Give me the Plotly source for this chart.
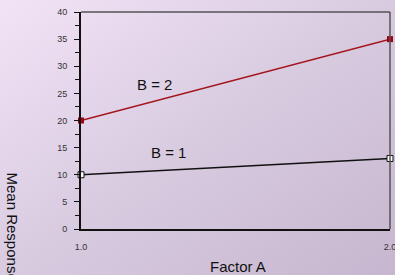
import plotly.graph_objects as go
import base64

factor_a = [1.0, 2.0]
b2_values = [20, 35]
b1_values = [10, 13]
y_ticks = [0, 5, 10, 15, 20, 25, 30, 35, 40]

svg = ('<svg xmlns="http://www.w3.org/2000/svg" width="395" height="275">'
       '<defs><linearGradient id="g" x1="0" y1="0" x2="1" y2="1">'
       '<stop offset="0" stop-color="#f3e3f7"/>'
       '<stop offset="0.5" stop-color="#d8cbe0"/>'
       '<stop offset="1" stop-color="#c6b6cf"/>'
       '</linearGradient></defs>'
       '<rect width="395" height="275" fill="url(#g)"/></svg>')
src = "data:image/svg+xml;base64," + base64.b64encode(svg.encode()).decode()

fig = go.Figure()
fig.add_trace(go.Scatter(
    x=factor_a, y=b2_values, mode="lines+markers",
    line=dict(color="#a3141c", width=1.5),
    marker=dict(symbol="square", size=6, color="#a00010"),
    cliponaxis=False, showlegend=False, hoverinfo="skip"))
fig.add_trace(go.Scatter(
    x=factor_a, y=b1_values, mode="lines+markers",
    line=dict(color="#111111", width=1.3),
    marker=dict(symbol="square", size=6, color="white",
                line=dict(color="#111111", width=1)),
    cliponaxis=False, showlegend=False, hoverinfo="skip"))

fig.update_layout(
    width=395, height=275,
    margin=dict(l=81, r=5, t=12, b=46, autoexpand=False),
    paper_bgcolor="#d8cbe0", plot_bgcolor="rgba(0,0,0,0)",
    font=dict(family="Liberation Sans, Arial", color="#222222"),
    images=[dict(source=src, xref="paper", yref="paper", x=-81/309, y=1+12/217,
                 sizex=395/309, sizey=275/217, sizing="stretch",
                 xanchor="left", yanchor="top", layer="below")],
    xaxis=dict(range=[1, 2], tickvals=factor_a, ticktext=["1.0", "2.0"],
               showgrid=False, zeroline=False, showline=True, automargin=False,
               linecolor="#111111", linewidth=2, ticks="", ticklabeloverflow="allow",
               tickfont=dict(size=9, color="#333333"), ticklabelstandoff=8),
    yaxis=dict(range=[0, 40], tickvals=y_ticks, showgrid=False, zeroline=False,
               showline=True, linecolor="#111111", linewidth=2, automargin=False,
               ticks="outside", ticklen=5, tickcolor="#111111",
               minor=dict(dtick=2.5, ticks="outside", ticklen=4, tickcolor="#111111"),
               tickfont=dict(size=9, color="#333333"), ticklabelstandoff=5),
    shapes=[
        dict(type="line", xref="paper", yref="paper", x0=0, x1=1, y0=1, y1=1,
             line=dict(color="#555555", width=1.5)),
        dict(type="line", xref="paper", yref="paper", x0=1, x1=1, y0=0, y1=1,
             line=dict(color="#555555", width=1.5)),
    ],
    annotations=[
        dict(text="B = 2", x=(154.5 - 81) / 309, y=(229 - 84) / 217, xref="paper",
             yref="paper", showarrow=False, xanchor="center", yanchor="middle",
             font=dict(size=15, color="#111111")),
        dict(text="B = 1", x=(168.5 - 81) / 309, y=(229 - 152) / 217, xref="paper",
             yref="paper", showarrow=False, xanchor="center", yanchor="middle",
             font=dict(size=15, color="#111111")),
        dict(text="Factor A", x=(237.5 - 81) / 309, y=(229 - 266) / 217, xref="paper",
             yref="paper", showarrow=False, xanchor="center", yanchor="middle",
             font=dict(size=15, color="#111111")),
        dict(text="Mean Response", x=(12 - 81) / 309, y=(229 - 170) / 217,
             xref="paper", yref="paper", showarrow=False, textangle=90,
             xanchor="center", yanchor="top",
             font=dict(size=15, color="#111111")),
    ],
)

fig.write_html("out.html", config={"displayModeBar": False, "staticPlot": True},
               post_script="document.body.style.margin='0';document.body.style.overflow='hidden';")
